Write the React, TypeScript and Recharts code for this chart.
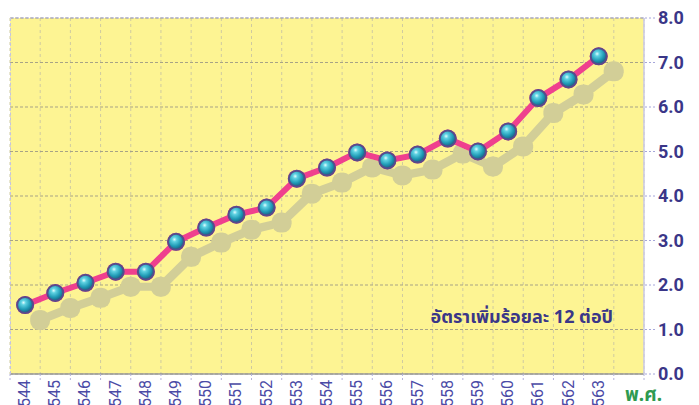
import {
  CartesianGrid,
  Line,
  LineChart,
  ReferenceLine,
  XAxis,
  YAxis,
} from "recharts"

// ปี พ.ศ. (the last slot is empty, it holds the "พ.ศ." caption)
const years = [
  "2544", "2545", "2546", "2547", "2548", "2549", "2550", "2551", "2552", "2553",
  "2554", "2555", "2556", "2557", "2558", "2559", "2560", "2561", "2562", "2563", "",
]
const values = [
  1.55, 1.82, 2.05, 2.3, 2.3, 2.97, 3.29, 3.58, 3.74, 4.39,
  4.64, 4.98, 4.8, 4.93, 5.29, 5.0, 5.45, 6.2, 6.62, 7.14, null,
]
const yTicks = [0, 1, 2, 3, 4, 5, 6, 7, 8]

const data = years.map((year, i) => ({ year, value: values[i] }))

const WIDTH = 699
const HEIGHT = 405
const LEFT = 10
const AXIS_W = 55
const BAND = (WIDTH - LEFT - AXIS_W) / years.length

const NAVY = "#3a3688"
const PINK = "#ef3f8e"

function bandEdges({ offset }: any) {
  const step = offset.width / years.length
  return years.map((_, i) => offset.left + i * step).concat(offset.left + offset.width)
}

function YearTick(props: any) {
  const { x, y, payload, index } = props
  const edge = x - BAND / 2
  const px = x + 5
  const py = y + 6
  return (
    <g>
      <line x1={edge} x2={edge} y1={y} y2={y + 8} stroke="#b4b4dc" strokeDasharray="2 2" />
      {index === years.length - 1 ? (
        <line x1={edge + BAND} x2={edge + BAND} y1={y} y2={y + 8} stroke="#b4b4dc" strokeDasharray="2 2" />
      ) : null}
      {payload.value ? (
        <text
          x={px}
          y={py}
          transform={`rotate(-90 ${px} ${py})`}
          textAnchor="end"
          fill="#4b4ba6"
          fontSize={16}
          fontFamily="Roboto, sans-serif"
        >
          {payload.value}
        </text>
      ) : null}
    </g>
  )
}

function BallDot(props: any) {
  const { cx, cy, value, index } = props
  if (value == null || cx == null || cy == null) return <g key={index} />
  return (
    <circle
      key={index}
      cx={cx}
      cy={cy}
      r={8}
      fill="url(#ball)"
      stroke="#574c8c"
      strokeWidth={2}
    />
  )
}

export default function App() {
  return (
    <div style={{ position: "absolute", left: 0, top: 0, width: WIDTH, height: HEIGHT, background: "#fff" }}>
      <style>{`.recharts-line-curve { filter: url(#dropShadow); marker: url(#blob); }`}</style>
      <LineChart
        width={WIDTH}
        height={HEIGHT}
        data={data}
        margin={{ top: 18, right: 0, left: LEFT, bottom: 0 }}
      >
        <defs>
          <radialGradient id="ball" cx="40%" cy="35%" r="65%">
            <stop offset="0%" stopColor="#e2fdff" />
            <stop offset="22%" stopColor="#5fd2e2" />
            <stop offset="65%" stopColor="#1f9ab5" />
            <stop offset="100%" stopColor="#1a5d80" />
          </radialGradient>
          <marker
            id="blob"
            markerUnits="userSpaceOnUse"
            viewBox="0 0 20 20"
            markerWidth="20"
            markerHeight="20"
            refX="10"
            refY="10"
          >
            <circle cx="10" cy="10" r="9" fill={PINK} />
          </marker>
          <filter
            id="dropShadow"
            filterUnits="userSpaceOnUse"
            x="0"
            y="0"
            width={WIDTH}
            height={HEIGHT}
          >
            <feMorphology in="SourceAlpha" operator="dilate" radius="1" result="fat" />
            <feOffset in="fat" dx="15" dy="15" result="moved" />
            <feFlood floodColor="#d2ce97" />
            <feComposite in2="moved" operator="in" result="shade" />
            <feMerge>
              <feMergeNode in="shade" />
              <feMergeNode in="SourceGraphic" />
            </feMerge>
          </filter>
        </defs>
        <CartesianGrid
          fill="#fdf493"
          stroke="#cfcaa0"
          strokeDasharray="3 3"
          horizontal={false}
          verticalCoordinatesGenerator={bandEdges}
        />
        <CartesianGrid
          stroke="#a7a386"
          strokeDasharray="3 2"
          vertical={false}
        />
        <XAxis
          dataKey="year"
          scale="band"
          height={31}
          interval={0}
          tickLine={false}
          tickSize={0}
          tickMargin={0}
          axisLine={{ stroke: "#9a9a9a", strokeWidth: 1.5 }}
          tick={<YearTick />}
        />
        <YAxis
          orientation="right"
          width={AXIS_W}
          domain={[0, 8]}
          ticks={yTicks}
          interval={0}
          tickFormatter={(v: number) => v.toFixed(1)}
          tickSize={11}
          tickMargin={3}
          axisLine={{ stroke: "#c8c8e6", strokeWidth: 1.5 }}
          tickLine={{ stroke: "#a6a6da", strokeDasharray: "2 2" }}
          tick={{
            fill: NAVY,
            fontSize: 18,
            fontWeight: 700,
            fontFamily: "Roboto, sans-serif",
            textAnchor: "start",
          }}
        />
        <ReferenceLine y={8} stroke="#a6a6da" strokeDasharray="3 2" />
        <Line
          dataKey="value"
          stroke={PINK}
          strokeWidth={6}
          dot={<BallDot />}
          activeDot={false}
          isAnimationActive={false}
        />
      </LineChart>
      <div
        style={{
          position: "absolute",
          left: LEFT,
          top: 18,
          height: 356,
          borderLeft: "1px dashed #c4c4e4",
        }}
      />
      <div
        style={{
          position: "absolute",
          right: 86,
          top: 304,
          color: NAVY,
          fontFamily: "'Noto Sans', 'Noto Sans Thai', sans-serif",
          fontWeight: 700,
          fontSize: 18,
          lineHeight: "24px",
          whiteSpace: "nowrap",
        }}
      >
        อัตราเพิ่มร้อยละ 12 ต่อปี
      </div>
      <div
        style={{
          position: "absolute",
          left: 625,
          top: 382,
          color: "#2e9a50",
          fontFamily: "'Noto Sans', 'Noto Sans Thai', sans-serif",
          fontWeight: 700,
          fontSize: 19,
          lineHeight: "24px",
          whiteSpace: "nowrap",
        }}
      >
        พ.ศ.
      </div>
    </div>
  )
}
